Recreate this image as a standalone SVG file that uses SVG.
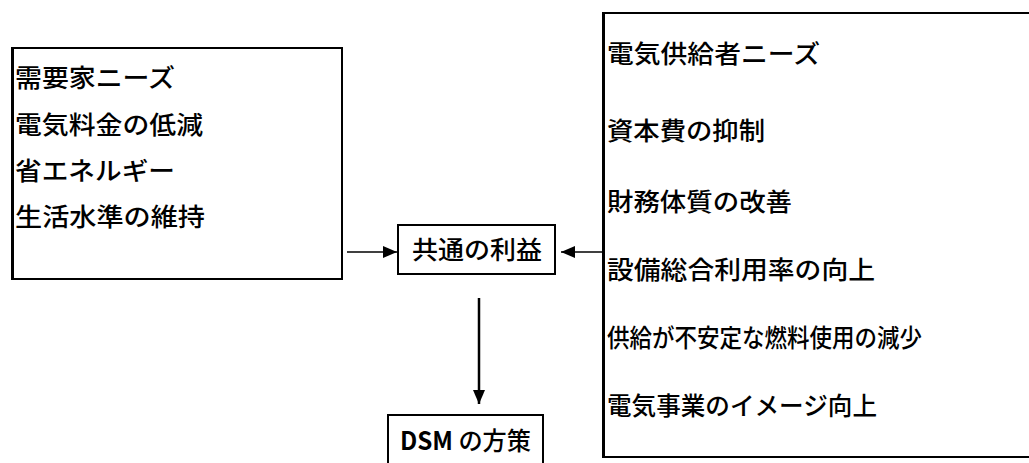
<svg xmlns="http://www.w3.org/2000/svg" width="1029" height="463" viewBox="0 0 1029 463">
<style>
.box{fill:#fff;stroke:#000;stroke-width:2}
.edge{stroke:#000;stroke-width:3}
.t{font-family:"Noto Sans CJK JP","Noto Sans CJK SC",sans-serif;font-size:25px;font-weight:500;fill:#000}
.c{stroke:#000;fill:none}
</style>
<defs>
<marker id="ah" viewBox="0 0 14 12" refX="14" refY="6" markerWidth="14" markerHeight="12" markerUnits="userSpaceOnUse" orient="auto">
<path d="M0,0 L14,6 L0,12 Z" fill="#000"/>
</marker>
</defs>
<rect width="1029" height="463" fill="#fff"/>
<g id="customer-needs">
<rect class="box" x="12" y="48" width="330" height="231"/>
<line class="edge" x1="12.5" y1="48" x2="12.5" y2="279"/>
<text class="t" x="15" y="87" textLength="160" lengthAdjust="spacingAndGlyphs">需要家ニーズ</text>
<text class="t" x="15" y="134" textLength="188" lengthAdjust="spacingAndGlyphs">電気料金の低減</text>
<text class="t" x="15" y="180" textLength="160" lengthAdjust="spacingAndGlyphs">省エネルギー</text>
<text class="t" x="15" y="226" textLength="190" lengthAdjust="spacingAndGlyphs">生活水準の維持</text>
</g>
<g id="supplier-needs">
<rect class="box" x="603" y="13" width="440" height="444"/>
<line class="edge" x1="603.5" y1="13" x2="603.5" y2="457"/>
<text class="t" x="607" y="63" textLength="213" lengthAdjust="spacingAndGlyphs">電気供給者ニーズ</text>
<text class="t" x="607" y="140" textLength="158" lengthAdjust="spacingAndGlyphs">資本費の抑制</text>
<text class="t" x="607" y="211" textLength="185" lengthAdjust="spacingAndGlyphs">財務体質の改善</text>
<text class="t" x="607" y="279" textLength="268" lengthAdjust="spacingAndGlyphs">設備総合利用率の向上</text>
<text class="t" x="607" y="347" textLength="315" lengthAdjust="spacingAndGlyphs">供給が不安定な燃料使用の減少</text>
<text class="t" x="607" y="415" textLength="270" lengthAdjust="spacingAndGlyphs">電気事業のイメージ向上</text>
</g>
<g id="common-benefit">
<rect class="box" x="398" y="225" width="157" height="49"/>
<text class="t" x="412" y="259" textLength="130" lengthAdjust="spacingAndGlyphs">共通の利益</text>
</g>
<g id="dsm">
<rect class="box" x="388" y="415" width="155" height="52"/>
<text class="t" x="400" y="450" textLength="131" lengthAdjust="spacingAndGlyphs"><tspan font-weight="700">DSM</tspan> の方策</text>
</g>
<g id="connectors">
<line class="c" x1="347" y1="252" x2="397" y2="252" stroke-width="1.5" marker-end="url(#ah)"/>
<line class="c" x1="603" y1="252" x2="561" y2="252" stroke-width="1.5" marker-end="url(#ah)"/>
<line class="c" x1="479" y1="298" x2="479" y2="404" stroke-width="2.5" marker-end="url(#ah)"/>
</g>
</svg>
